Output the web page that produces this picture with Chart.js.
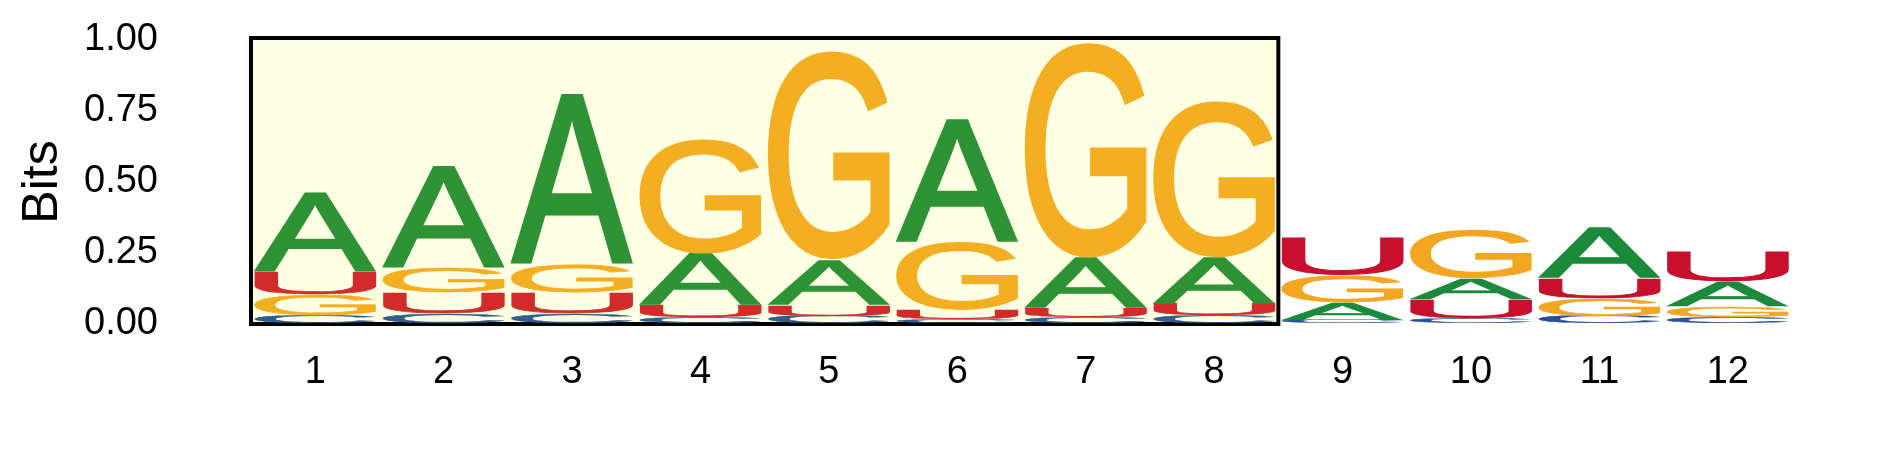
<!DOCTYPE html>
<html>
<head>
<meta charset="utf-8">
<script src="https://cdn.jsdelivr.net/npm/chart.js@4.4.1/dist/chart.umd.min.js"></script>
<style>
  html, body { margin: 0; padding: 0; background: #fff; }
  #wrap { width: 1889px; height: 472px; position: relative; }
</style>
</head>
<body>
<div id="wrap"><canvas id="logo"></canvas></div>
<script>
// positions and information (bits) for each base
const positions = ['1', '2', '3', '4', '5', '6', '7', '8', '9', '10', '11', '12'];
const bitsA = [0.282, 0.359, 0.604, 0.185, 0.161, 0.434, 0.179, 0.165, 0.061, 0.076, 0.178, 0.086];
const bitsC = [0.030, 0.035, 0.035, 0.025, 0.028, 0.016, 0.025, 0.030, 0.014, 0.020, 0.028, 0.025];
const bitsG = [0.074, 0.088, 0.098, 0.400, 0.733, 0.238, 0.756, 0.548, 0.097, 0.170, 0.062, 0.038];
const bitsU = [0.080, 0.075, 0.075, 0.040, 0.039, 0.034, 0.030, 0.040, 0.133, 0.065, 0.071, 0.109];
const yTicks = [0, 0.25, 0.5, 0.75, 1.0];
const highlightFrom = 1;
const highlightTo = 8;

const colorsIn = { A: '#2e9334', C: '#2f5e8c', G: '#f4ae22', U: '#d22b2b' };
const colorsOut = { A: '#1b8a3b', C: '#2a4e9a', G: '#f4a623', U: '#c8102e' };

// stack letters smallest at the bottom
const bases = { A: bitsA, C: bitsC, G: bitsG, U: bitsU };
const ranks = [[], [], [], []];
positions.forEach((p, i) => {
  Object.keys(bases)
    .map((b) => ({ b, v: bases[b][i] }))
    .sort((a, b) => a.v - b.v)
    .forEach((item, r) => ranks[r].push(item));
});

const datasets = ranks.map((r, k) => ({
  label: 'rank' + k,
  data: r.map((d) => d.v),
  letters: r.map((d) => d.b),
  backgroundColor: 'rgba(0,0,0,0)',
  borderWidth: 0,
  barPercentage: 0.95,
  categoryPercentage: 1
}));

// regular glyph thickened a little with an outline of the same colour
const FONT = '200px "Liberation Sans", Arial, sans-serif';
const GLYPH_STROKE = 4;
const glyphBox = {};
function measure(ctx, ch) {
  if (!glyphBox[ch]) {
    ctx.save();
    ctx.font = FONT;
    const m = ctx.measureText(ch);
    const e = GLYPH_STROKE / 2;
    glyphBox[ch] = { l: m.actualBoundingBoxLeft + e, r: m.actualBoundingBoxRight + e, a: m.actualBoundingBoxAscent + e, d: m.actualBoundingBoxDescent + e };
    ctx.restore();
  }
  return glyphBox[ch];
}

const highlight = {
  id: 'highlight',
  beforeDatasetsDraw(chart) {
    const { ctx, scales: { x, y } } = chart;
    const step = x.getPixelForValue(1) - x.getPixelForValue(0);
    const left = x.getPixelForValue(highlightFrom - 1) - step / 2;
    const right = x.getPixelForValue(highlightTo - 1) + step / 2;
    const top = y.getPixelForValue(1.007);
    const bottom = y.getPixelForValue(0);
    ctx.save();
    ctx.fillStyle = '#ffffe4';
    ctx.fillRect(left, top, right - left, bottom - top);
    ctx.lineWidth = 4;
    ctx.strokeStyle = '#000';
    ctx.strokeRect(left, top, right - left, bottom - top);
    ctx.restore();
  }
};

const letters = {
  id: 'letters',
  afterDatasetsDraw(chart) {
    const ctx = chart.ctx;
    chart.data.datasets.forEach((ds, di) => {
      chart.getDatasetMeta(di).data.forEach((bar, i) => {
        const { x, y, base, width } = bar.getProps(['x', 'y', 'base', 'width'], true);
        const h = base - y;
        if (h <= 0) return;
        const ch = ds.letters[i];
        const g = measure(ctx, ch);
        const inside = i >= highlightFrom - 1 && i <= highlightTo - 1;
        const col = (inside ? colorsIn : colorsOut)[ch];
        ctx.save();
        ctx.font = FONT;
        ctx.textAlign = 'left';
        ctx.textBaseline = 'alphabetic';
        ctx.fillStyle = col;
        ctx.strokeStyle = col;
        ctx.lineWidth = GLYPH_STROKE;
        ctx.lineJoin = 'miter';
        ctx.miterLimit = 2;
        ctx.translate(x - width / 2, y);
        ctx.scale(width / (g.l + g.r), h / (g.a + g.d));
        ctx.fillText(ch, g.l, g.a);
        ctx.strokeText(ch, g.l, g.a);
        ctx.restore();
      });
    });
  }
};

new Chart(document.getElementById('logo'), {
  type: 'bar',
  data: { labels: positions, datasets },
  options: {
    responsive: true,
    maintainAspectRatio: false,
    animation: false,
    devicePixelRatio: 1,
    layout: { padding: { top: 40, right: 97, left: 0, bottom: 0 } },
    plugins: { legend: { display: false }, tooltip: { enabled: false } },
    scales: {
      x: {
        stacked: true,
        grid: { display: false, drawTicks: false },
        border: { display: false },
        ticks: { padding: 26, color: '#000', font: { family: '"Liberation Sans", Arial', size: 38 } },
        afterFit: (s) => { s.height = 148; }
      },
      y: {
        stacked: true,
        min: 0,
        max: 1,
        grid: { display: true, drawOnChartArea: false, drawTicks: true, tickLength: 90, color: 'rgba(0,0,0,0)' },
        border: { display: false },
        afterBuildTicks: (s) => { s.ticks = yTicks.map((v) => ({ value: v })); },
        ticks: {
          padding: 3,
          color: '#000',
          font: { family: '"Liberation Sans", Arial', size: 38 },
          callback: (v) => Number(v).toFixed(2)
        },
        title: {
          display: true,
          text: 'Bits',
          color: '#000',
          padding: { top: 13, bottom: 0 },
          font: { family: '"Liberation Sans", Arial', size: 50 }
        },
        afterFit: (s) => { s.width = 251; }
      }
    }
  },
  plugins: [highlight, letters]
});
</script>
</body>
</html>
